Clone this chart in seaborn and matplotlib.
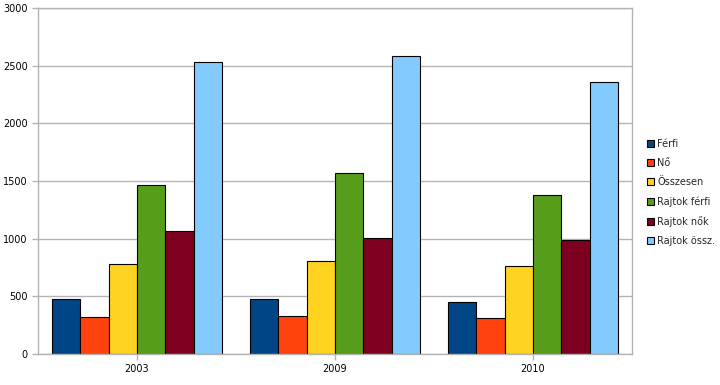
import matplotlib
matplotlib.use("Agg")
import matplotlib.pyplot as plt
import seaborn as sns
import pandas as pd

years = ["2003", "2009", "2010"]
series = ["Férfi", "Nő", "Összesen", "Rajtok férfi", "Rajtok nők", "Rajtok össz."]
ferfi = [475, 474, 448]
no = [319, 328, 310]
osszesen = [784, 804, 759]
rajtok_ferfi = [1466, 1572, 1382]
rajtok_nok = [1063, 1009, 985]
rajtok_ossz = [2535, 2585, 2362]
colors = ["#004586", "#ff420e", "#ffd320", "#579d1c", "#7e0021", "#83caff"]

values = [ferfi, no, osszesen, rajtok_ferfi, rajtok_nok, rajtok_ossz]
rows = []
for s, vals in zip(series, values):
    for y, v in zip(years, vals):
        rows.append({"year": y, "series": s, "value": v})
df = pd.DataFrame(rows)

sns.set_theme(style="white")
plt.rcParams['font.family'] = ['DejaVu Sans']

fig = plt.figure(figsize=(7.2, 3.85), dpi=100)
ax = fig.add_axes([38/720, 1-354/385, (632-38)/720, (354-8)/385])

sns.barplot(data=df, x="year", y="value", hue="series", hue_order=series,
            order=years, palette=colors, width=6/7, saturation=1,
            edgecolor="black", linewidth=0.8, ax=ax, legend=True)

ax.set_ylim(0, 3000)
ax.set_xlim(-0.5, 2.5)
ax.set_yticks(range(0, 3001, 500))
ax.yaxis.grid(True, color="#b3b3b3", linewidth=1)
ax.set_axisbelow(True)
for sp in ax.spines.values():
    sp.set_color("#b3b3b3")
    sp.set_linewidth(1)
ax.set_xlabel("")
ax.set_ylabel("")
ax.tick_params(axis="both", which="both", labelsize=7, colors="#b3b3b3",
               labelcolor="black", length=4, width=1, direction="out",
               left=True, bottom=True)

h, l = ax.get_legend_handles_labels()
ax.legend(h, l, loc="center left", bbox_to_anchor=(643/720, 0.5),
          bbox_transform=fig.transFigure, frameon=False, fontsize=7,
          handlelength=0.75, handleheight=0.75, handletextpad=0.3,
          labelspacing=0.95, borderaxespad=0)

fig.savefig("out.png", dpi=100)
